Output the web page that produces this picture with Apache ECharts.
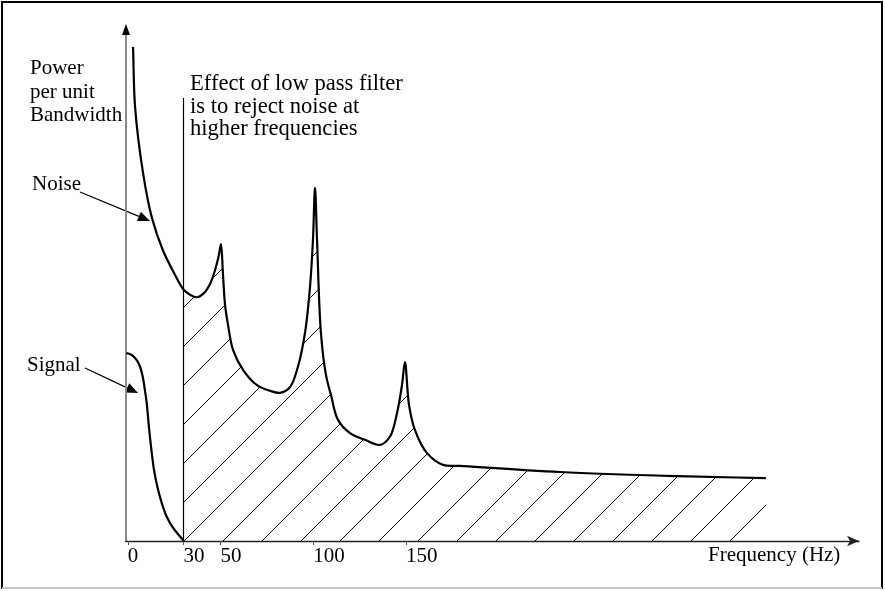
<!DOCTYPE html>
<html>
<head>
<meta charset="utf-8">
<script src="https://cdn.jsdelivr.net/npm/echarts@6/dist/echarts.min.js"></script>
<style>
html,body{margin:0;padding:0;background:#fff;}
#chart{width:885px;height:591px;}
</style>
</head>
<body>
<div id="chart"></div>
<script>
// Frequency (Hz) and power per unit bandwidth (arbitrary units, 0-100)
const noiseFreq = [2.8,3.9,8.2,13.0,18.9,25.4,30,33.5,37.3,41.0,44.3,47.0,49.1,50.2,51.3,52.4,54.0,56.7,62.1,69.6,76.6,82.0,87.4,91.7,95.5,98.2,99.8,100.9,102.0,104.1,106.8,109.5,113.3,119.8,127.8,135.9,141.3,145.1,147.8,149.4,151.6,154.8,161.3,169.9,179.1,233.0,296.0,344.0];
const noisePower = [96.7,84.9,72.0,63.2,56.9,52.1,49.2,48.2,47.7,48.5,50.3,53.0,56.0,58.1,52.1,46.2,42.3,37.4,33.5,30.5,29.4,29.0,30.1,34.1,40.7,49.7,58.9,69.1,58.9,40.7,32.5,28.6,23.7,21.1,19.8,18.8,20.4,25.0,30.5,35.0,26.6,21.7,17.2,14.9,14.7,13.5,12.7,12.3];
const signalFreq = [-0.8,2.1,4.8,6.6,8.0,9.2,10.2,11.0,11.9,12.9,14.1,15.9,18.3,20.9,24.5,29.0,30];
const signalPower = [36.8,36.4,35.4,34.1,32.2,29.5,26.9,23.7,20.4,17.2,13.9,10.6,7.4,4.8,2.5,0.5,0];
const cutoffFreq = 30;
const cutoffTop = 86.7;
const tickValues = [0,30,50,100,150];

const FONT = '"Liberation Serif","Times New Roman",serif';

const noiseData = noiseFreq.map((f,i)=>[f,noisePower[i]]);
const signalData = signalFreq.map((f,i)=>[f,signalPower[i]]);
const cutIdx = noiseFreq.indexOf(cutoffFreq);

// diagonal hatch pattern
const tile = document.createElement('canvas');
tile.width = 39; tile.height = 39;
(function(){
  const c = tile.getContext('2d');
  c.strokeStyle = '#000'; c.lineWidth = 1;
  c.beginPath();
  c.moveTo(-3,26); c.lineTo(26,-3);
  c.moveTo(20,42); c.lineTo(42,20);
  c.stroke();
})();

// centripetal Catmull-Rom -> cubic bezier control points
function crSegs(pts){
  const segs=[], n=pts.length;
  for(let i=0;i<n-1;i++){
    const p0=pts[i-1]||pts[i], p1=pts[i], p2=pts[i+1], p3=pts[i+2]||pts[i+1];
    const d1=Math.hypot(p1[0]-p0[0],p1[1]-p0[1]);
    const d2=Math.hypot(p2[0]-p1[0],p2[1]-p1[1]);
    const d3=Math.hypot(p3[0]-p2[0],p3[1]-p2[1]);
    const s1=Math.sqrt(d1), s2=Math.sqrt(d2), s3=Math.sqrt(d3);
    let b1,b2;
    if(d1<1e-6){ b1=[p1[0]+(p2[0]-p1[0])/3, p1[1]+(p2[1]-p1[1])/3]; }
    else { const k=3*s1*(s1+s2), m=2*d1+3*s1*s2+d2;
      b1=[(d1*p2[0]-d2*p0[0]+m*p1[0])/k, (d1*p2[1]-d2*p0[1]+m*p1[1])/k]; }
    if(d3<1e-6){ b2=[p2[0]+(p1[0]-p2[0])/3, p2[1]+(p1[1]-p2[1])/3]; }
    else { const k=3*s3*(s3+s2), m=2*d3+3*s3*s2+d2;
      b2=[(d3*p1[0]-d2*p3[0]+m*p2[0])/k, (d3*p1[1]-d2*p3[1]+m*p2[1])/k]; }
    segs.push([b1,b2]);
  }
  return segs;
}
function curvePath(pts, from){
  from = from||0;
  const segs = crSegs(pts);
  let d = 'M'+pts[from][0]+' '+pts[from][1];
  for(let i=from;i<pts.length-1;i++){
    const s=segs[i], p=pts[i+1];
    d += ' C'+s[0][0]+' '+s[0][1]+' '+s[1][0]+' '+s[1][1]+' '+p[0]+' '+p[1];
  }
  return d;
}

const chart = echarts.init(document.getElementById('chart'), null, {renderer:'canvas'});
chart.setOption({
  animation:false,
  backgroundColor:'#fff',
  grid:{left:126,right:26,top:30,bottom:50,containLabel:false},
  xAxis:{
    type:'value', min:-1, max:394.2,
    splitLine:{show:false},
    axisLine:{onZero:false, lineStyle:{color:'#222',width:1.3}, symbol:['none','arrow'], symbolSize:[8,12]},
    axisTick:{show:true, customValues:tickValues, length:4, lineStyle:{color:'#555',width:1}},
    axisLabel:{customValues:tickValues, align:'left', margin:4, fontFamily:FONT, fontSize:21, lineHeight:22, color:'#000', verticalAlign:'top'}
  },
  yAxis:{
    type:'value', min:0, max:100,
    splitLine:{show:false},
    axisLine:{show:true, onZero:false, lineStyle:{color:'#8a8a8a',width:2}},
    axisTick:{show:false},
    axisLabel:{show:false}
  },
  series:[
    {type:'custom', name:'hatch', data:[[cutoffFreq,0]], silent:true, z:1,
     renderItem:function(params, api){
       const pts = noiseData.map(d=>api.coord(d));
       const last = pts[pts.length-1];
       const base = api.coord([cutoffFreq,0]);
       const d = curvePath(pts, cutIdx)+' L'+last[0]+' '+base[1]+' L'+base[0]+' '+base[1]+' Z';
       return {type:'path', shape:{pathData:d}, style:{fill:{image:tile, repeat:'repeat'}, stroke:'none'}};
     }},
    {type:'line', name:'filter', data:[[cutoffFreq,0],[cutoffFreq,cutoffTop]], showSymbol:false,
     lineStyle:{color:'#000',width:1.2}, z:2},
    {type:'custom', name:'Noise', data:[[cutoffFreq,0]], silent:true, z:3,
     renderItem:function(params, api){
       const pts = noiseData.map(d=>api.coord(d));
       return {type:'path', shape:{pathData:curvePath(pts,0)}, style:{fill:'none', stroke:'#000', lineWidth:2.2}};
     }},
    {type:'custom', name:'Signal', data:[[cutoffFreq,0]], silent:true, z:3,
     renderItem:function(params, api){
       const pts = signalData.map(d=>api.coord(d));
       return {type:'path', shape:{pathData:curvePath(pts,0)}, style:{fill:'none', stroke:'#000', lineWidth:2.2}};
     }}
  ]
});

function arrow(x1,y1,x2,y2){
  const dx=x2-x1, dy=y2-y1, L=Math.hypot(dx,dy), ux=dx/L, uy=dy/L;
  const hl=12, hw=5, bx=x2-ux*hl, by=y2-uy*hl;
  return [
    {type:'line', shape:{x1:x1,y1:y1,x2:bx,y2:by}, style:{stroke:'#000',lineWidth:1.2}},
    {type:'polygon', shape:{points:[[x2,y2],[bx-uy*hw,by+ux*hw],[bx+uy*hw,by-ux*hw]]}, style:{fill:'#000'}}
  ];
}
function txt(t,x,baseline,lh,fs){
  lh = lh||22; fs = fs||21;
  const mid = fs*0.3375;
  return {type:'text', style:{text:t, x:x, y:baseline-lh/2-mid, font:fs+'px '+FONT, fill:'#000', lineHeight:lh, verticalAlign:'top', align:'left'}};
}
const yTop = chart.convertToPixel({gridIndex:0},[-1,100]);
const g = [];
// y-axis arrowhead
g.push({type:'polygon', shape:{points:[[yTop[0],yTop[1]-6],[yTop[0]-4,yTop[1]+5],[yTop[0]+4,yTop[1]+5]]}, style:{fill:'#000'}, z:10});
g.push(txt('Power\nper unit\nBandwidth',30,76,23.5));
g.push(txt('Effect of low pass filter\nis to reject noise at\nhigher frequencies',190,91.7,22.7,22.6));
g.push(txt('Noise',32,192));
g.push(txt('Signal',27,373));
g.push(txt('Frequency (Hz)',708,563));
g.push(...arrow(80,192,150,221));
g.push(...arrow(85,368,138,393));
// frame
g.push({type:'polyline', shape:{points:[[2,589],[2,2],[882,2],[882,589]]}, style:{stroke:'#000',lineWidth:2,fill:null}});
g.push({type:'line', shape:{x1:2,y1:588,x2:882,y2:588}, style:{stroke:'#c4c4c4',lineWidth:2}});
chart.setOption({graphic:g});
</script>
</body>
</html>
